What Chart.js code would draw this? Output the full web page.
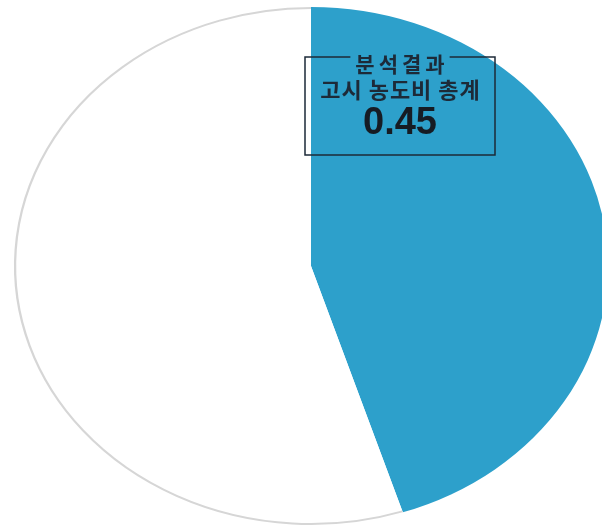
<!DOCTYPE html>
<html>
<head>
<meta charset="utf-8">
<script src="https://cdn.jsdelivr.net/npm/chart.js@4"></script>
<style>
  html, body { margin: 0; padding: 0; background: #fff; }
  #wrap { width: 602px; height: 528px; position: relative; }
</style>
</head>
<body>
<div id="wrap"><canvas id="pieChart"></canvas></div>
<script>
// data
const labels = ['분석결과 고시 농도비 총계', '나머지'];
const values = [0.45, 0.55];
const sliceColors = ['#2da0cb', '#ffffff'];
const boxTitle = ['분석결과', '고시 농도비 총계'];
const boxValue = '0.45';

// pie is drawn stretched sideways (ellipse like the original)
const stretchX = 1.147;

const ellipsePlugin = {
    id: 'ellipse',
    beforeDatasetDraw(chart) {
        const el = chart.getDatasetMeta(0).data[0];
        const ctx = chart.ctx;
        ctx.save();
        ctx.translate(el.x, el.y);
        ctx.scale(stretchX, 1);
        ctx.translate(-el.x, -el.y);
    },
    afterDatasetDraw(chart) {
        const ctx = chart.ctx;
        // grey outline only on the white part
        const w = chart.getDatasetMeta(0).data[1];
        ctx.beginPath();
        ctx.arc(w.x, w.y, w.outerRadius - 1, w.startAngle, w.endAngle);
        ctx.strokeStyle = '#d6d6d6';
        ctx.lineWidth = 2;
        ctx.stroke();
        ctx.restore();
    }
};

// label box in the blue slice
const boxPlugin = {
    id: 'valueBox',
    afterDraw(chart) {
        const ctx = chart.ctx;
        const left = 305, right = 495, top = 57, bottom = 155;
        const cx = (left + right) / 2;
        ctx.save();
        ctx.textAlign = 'center';
        ctx.textBaseline = 'middle';
        ctx.fillStyle = '#1d2a38';

        ctx.font = 'bold 21px "Noto Sans CJK KR"';
        ctx.letterSpacing = '4px';
        const tw = ctx.measureText(boxTitle[0]).width;
        ctx.fillText(boxTitle[0], cx + 2, 64);

        ctx.strokeStyle = '#1d2a38';
        ctx.lineWidth = 1.5;
        ctx.beginPath();
        ctx.moveTo(cx - tw / 2 - 3, top);
        ctx.lineTo(left, top);
        ctx.lineTo(left, bottom);
        ctx.lineTo(right, bottom);
        ctx.lineTo(right, top);
        ctx.lineTo(cx + tw / 2 + 3, top);
        ctx.stroke();

        ctx.font = 'bold 22px "Noto Sans CJK KR"';
        ctx.letterSpacing = '1px';
        ctx.fillText(boxTitle[1], cx + 0.5, 90);

        ctx.font = 'bold 38px "Liberation Sans"';
        ctx.letterSpacing = '0px';
        ctx.fillStyle = '#161c24';
        ctx.fillText(boxValue, cx, 124);
        ctx.restore();
    }
};

const ctxPie = document.getElementById('pieChart').getContext('2d');
const pieChart = new Chart(ctxPie, {
    type: 'pie',
    data: {
        labels: labels,
        datasets: [
            {
                data: values,
                backgroundColor: sliceColors,
                borderWidth: 0,
            },
        ],
    },
    options: {
        responsive: true,
        maintainAspectRatio: false,
        animation: false,
        layout: {
            padding: { left: 20, right: 0, top: 7, bottom: 3 },
        },
        plugins: {
            legend: { display: false },
            tooltip: { enabled: false },
        },
    },
    plugins: [ellipsePlugin, boxPlugin],
});
</script>
</body>
</html>
